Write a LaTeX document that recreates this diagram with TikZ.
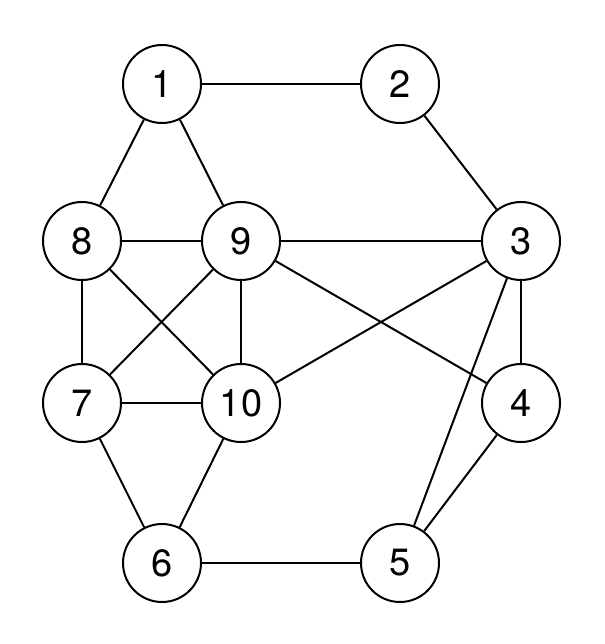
\documentclass[tikz,border=0pt]{standalone}
\usepackage{fontspec}
\setmainfont{TeX Gyre Heros}
\begin{document}
\begin{tikzpicture}[x=1pt,y=-1pt,
  v/.style={circle,draw,line width=2pt,minimum size=78pt,inner sep=0pt,font=\fontsize{38}{40}\selectfont},
  e/.style={line width=2pt}]
\useasboundingbox (0,0) rectangle (604,644);
\node[v] (n1) at (162,84) {1};
\node[v] (n2) at (400,84) {2};
\node[v] (n8) at (82,241) {8};
\node[v] (n9) at (241,241) {9};
\node[v] (n3) at (521,241) {3};
\node[v] (n7) at (82,403) {7};
\node[v] (n10) at (241,403) {10};
\node[v] (n4) at (521,403) {4};
\node[v] (n6) at (162,563) {6};
\node[v] (n5) at (400,563) {5};
\foreach \a/\b in {n1/n2,n2/n3,n1/n8,n1/n9,n8/n9,n9/n3,n8/n7,n8/n10,n9/n7,n9/n10,n9/n4,n3/n10,n3/n4,n3/n5,n7/n10,n7/n6,n10/n6,n6/n5,n5/n4}
  \draw[e] (\a) -- (\b);
\end{tikzpicture}
\end{document}
